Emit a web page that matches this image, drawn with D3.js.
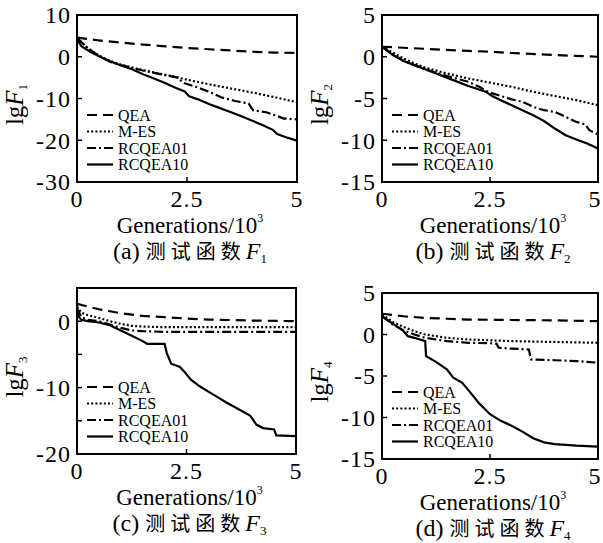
<!DOCTYPE html>
<html>
<head>
<meta charset="utf-8">
<script src="https://cdn.jsdelivr.net/npm/d3@7/dist/d3.min.js"></script>
<style>
  body { margin: 0; background: #fff; }
  text { font-family: "Liberation Serif", "DejaVu Serif", serif; fill: #000; }
  .cjk { font-family: "Noto Sans CJK SC", sans-serif; }
</style>
</head>
<body>
<svg id="chart" width="603" height="543"></svg>
<script>
// legend / series names
const seriesNames = ["QEA", "M-ES", "RCQEA01", "RCQEA10"];
const xTicks = [0, 2.5, 5];
const xTickLabels = ["0", "2.5", "5"];

// F1
const f1Ticks = [10, 0, -10, -20, -30];
const f1QEA = [[0,4.6],[0.5,3.9],[1,3.4],[1.5,2.9],[2,2.5],[2.5,2.1],[3,1.8],[3.5,1.5],[4,1.2],[4.5,1.0],[5,0.9]];
const f1MES = [[0,4.5],[0.25,2],[0.5,0.3],[0.75,-1.0],[1,-1.9],[1.5,-3.2],[2,-4.3],[2.5,-5.5],[3,-6.6],[3.5,-7.6],[4,-8.6],[4.5,-9.7],[5,-10.9]];
const f1R01 = [[0,4.5],[0.25,2],[0.5,0.2],[0.75,-1.2],[1,-2],[1.5,-3.3],[2,-4.4],[2.3,-5.0],[2.4,-6.2],[2.7,-7.2],[3,-8.4],[3.3,-9.8],[3.6,-10.6],[3.9,-11.2],[4.0,-12.8],[4.3,-13.3],[4.5,-14.0],[4.7,-14.8],[5,-15.0]];
const f1R10 = [[0,4.2],[0.1,2.5],[0.3,1.2],[0.5,0.1],[0.75,-1.1],[1,-2.1],[1.25,-3.0],[1.5,-4.2],[1.75,-5.2],[2,-6.3],[2.25,-7.5],[2.45,-8.3],[2.55,-9.5],[2.75,-10.2],[3,-11.3],[3.25,-12.3],[3.5,-13.3],[3.75,-14.3],[4,-15.4],[4.25,-16.5],[4.45,-17.5],[4.55,-18.5],[4.75,-19.3],[5,-20.1]];

// F2
const f2Ticks = [5, 0, -5, -10, -15];
const f2QEA = [[0,1.2],[1,0.95],[2,0.7],[2.5,0.6],[3,0.45],[4,0.2],[5,0.0]];
const f2MES = [[0,1.2],[0.25,0.5],[0.5,-0.2],[0.75,-0.8],[1,-1.3],[1.5,-2.0],[2,-2.6],[2.5,-3.1],[3,-3.6],[3.5,-4.2],[4,-4.7],[4.5,-5.2],[5,-5.8]];
const f2R01 = [[0,1.2],[0.25,0.3],[0.5,-0.5],[0.75,-1.0],[1,-1.5],[1.5,-2.3],[2,-3.0],[2.25,-3.6],[2.5,-4.3],[2.75,-4.7],[3,-5.1],[3.25,-5.4],[3.5,-6.0],[3.75,-6.4],[4,-6.6],[4.25,-7.2],[4.5,-7.8],[4.7,-8.1],[4.8,-8.8],[5,-9.3]];
const f2R10 = [[0,1.2],[0.25,0.2],[0.5,-0.5],[0.75,-1.0],[1,-1.5],[1.5,-2.5],[2,-3.5],[2.4,-4.2],[2.55,-4.7],[2.75,-5.2],[3,-5.8],[3.5,-7.0],[3.75,-7.7],[4,-8.6],[4.25,-9.4],[4.5,-9.9],[4.75,-10.4],[5,-11.0]];

// F3
const f3Ticks = [5, 0, -5, -10, -15, -20];
const f3Labels = [0, -10, -20];
const f3QEA = [[0,2.6],[0.25,2.2],[0.5,1.8],[0.75,1.5],[1,1.2],[1.5,0.8],[2,0.6],[2.5,0.4],[3,0.25],[4,0.1],[5,0.0]];
const f3MES = [[0,2.2],[0.1,1.3],[0.25,0.9],[0.5,0.5],[0.75,0.0],[1,-0.4],[1.25,-0.7],[1.5,-0.8],[2,-0.9],[3,-0.9],[5,-0.9]];
const f3R01 = [[0,2.0],[0.1,0.6],[0.25,0.2],[0.5,0.0],[0.75,-0.5],[1,-1.0],[1.25,-1.4],[1.5,-1.5],[2,-1.6],[5,-1.6]];
const f3R10 = [[0,1.8],[0.05,0.6],[0.1,0.2],[0.25,0.0],[0.5,-0.2],[0.75,-0.6],[1,-1.4],[1.25,-2.2],[1.5,-3.0],[1.6,-3.4],[2.0,-3.4],[2.05,-4.8],[2.15,-6.4],[2.35,-6.9],[2.45,-7.6],[2.6,-8.8],[2.8,-9.8],[3.0,-10.6],[3.2,-11.4],[3.4,-12.2],[3.65,-13.1],[3.95,-14.2],[4.1,-15.6],[4.25,-16.1],[4.5,-16.3],[4.55,-17.2],[5,-17.3]];

// F4
const f4Ticks = [5, 0, -5, -10, -15];
const f4QEA = [[0,2.5],[0.5,2.2],[1,2.0],[1.5,1.9],[2,1.8],[3,1.75],[4,1.7],[5,1.6]];
const f4MES = [[0,2.4],[0.25,1.5],[0.5,0.9],[0.75,0.4],[1,0.0],[1.5,-0.4],[2,-0.6],[2.5,-0.7],[3,-0.8],[4,-0.9],[5,-1.0]];
const f4R01 = [[0,2.2],[0.25,1.2],[0.5,0.5],[0.75,0.0],[1,-0.4],[1.5,-0.8],[2,-1.0],[2.5,-1.05],[2.65,-1.1],[2.7,-1.6],[3,-1.7],[3.4,-1.8],[3.45,-3.0],[4,-3.1],[4.5,-3.2],[5,-3.4]];
const f4R10 = [[0,2.2],[0.25,1.3],[0.5,0.4],[0.6,-0.2],[0.75,-0.4],[1,-0.8],[1.02,-2.6],[1.25,-3.3],[1.5,-4.2],[1.65,-5.2],[1.85,-5.8],[2,-6.7],[2.25,-8.3],[2.5,-9.6],[2.75,-10.4],[3,-11.0],[3.25,-11.7],[3.5,-12.5],[3.75,-13.0],[4,-13.2],[4.5,-13.4],[5,-13.5]];

const dashes = ["10,6", "2,2.2", "9,3,2,3", null];

const panels = [
  { tag: "(a)", n: "1", x0: 77, x1: 297, y0: 15, y1: 182, ticks: f1Ticks, labels: f1Ticks, series: [f1QEA, f1MES, f1R01, f1R10] },
  { tag: "(b)", n: "2", x0: 382, x1: 598, y0: 15, y1: 182, ticks: f2Ticks, labels: f2Ticks, series: [f2QEA, f2MES, f2R01, f2R10] },
  { tag: "(c)", n: "3", x0: 77, x1: 296, y0: 288, y1: 454, ticks: f3Ticks, labels: f3Labels, series: [f3QEA, f3MES, f3R01, f3R10] },
  { tag: "(d)", n: "4", x0: 382, x1: 598, y0: 293, y1: 459, ticks: f4Ticks, labels: f4Ticks, series: [f4QEA, f4MES, f4R01, f4R10] }
];

const svg = d3.select("#chart");

panels.forEach(p => {
  const g = svg.append("g");
  const x = d3.scaleLinear().domain([0, 5]).range([p.x0, p.x1]);
  const y = d3.scaleLinear().domain(d3.extent(p.ticks)).range([p.y1, p.y0]);

  // lines
  const line = d3.line().x(d => x(d[0])).y(d => y(d[1]));
  p.series.forEach((s, i) => {
    g.append("path").datum(s)
      .attr("d", line)
      .attr("fill", "none")
      .attr("stroke", "#000")
      .attr("stroke-width", 2.2)
      .attr("stroke-dasharray", dashes[i]);
  });

  // frame
  g.append("rect")
    .attr("x", p.x0).attr("y", p.y0)
    .attr("width", p.x1 - p.x0).attr("height", p.y1 - p.y0)
    .attr("fill", "none").attr("stroke", "#000").attr("stroke-width", 2);

  // y ticks (inside) and labels
  g.selectAll(".yt").data(p.ticks).enter().append("line")
    .attr("x1", p.x0).attr("x2", p.x0 + 5)
    .attr("y1", d => y(d)).attr("y2", d => y(d))
    .attr("stroke", "#000").attr("stroke-width", 1.5);
  g.selectAll(".yl").data(p.labels).enter().append("text")
    .attr("x", p.x0 - 6).attr("y", d => y(d)).attr("dy", "0.35em")
    .attr("text-anchor", "end").attr("font-size", 24)
    .attr("letter-spacing", 1)
    .text(d => d);

  // x ticks
  g.selectAll(".xt").data(xTicks).enter().append("line")
    .attr("x1", d => x(d)).attr("x2", d => x(d))
    .attr("y1", p.y1).attr("y2", p.y1 - 5)
    .attr("stroke", "#000").attr("stroke-width", 1.5);
  g.selectAll(".xl").data(xTicks).enter().append("text")
    .attr("x", (d, i) => x(d) - (i === 2 && p.x1 > 590 ? 3 : 0)).attr("y", p.y1 + 25)
    .attr("text-anchor", "middle").attr("font-size", 24)
    .attr("letter-spacing", 1)
    .text((d, i) => xTickLabels[i]);

  const cx = (p.x0 + p.x1) / 2 + 3;

  // x axis title
  const xt = g.append("text").attr("x", cx).attr("y", p.y1 + 51)
    .attr("text-anchor", "middle").attr("font-size", 23);
  xt.append("tspan").text("Generations/10");
  xt.append("tspan").attr("font-size", 12).attr("dy", -11).text("3");

  // caption
  const cap = g.append("text").attr("x", cx).attr("y", p.y1 + 77)
    .attr("text-anchor", "middle").attr("font-size", 24);
  cap.append("tspan").text(p.tag + " ");
  cap.append("tspan").attr("class", "cjk").attr("font-size", 20).attr("letter-spacing", 5).text("测试函数");
  cap.append("tspan").attr("font-style", "italic").text("F");
  cap.append("tspan").attr("font-size", 13).attr("dy", 4).text(p.n);

  // y axis title
  const yl = g.append("text")
    .attr("transform", `translate(${p.x0 - 54},${(p.y0 + p.y1) / 2 + 6}) rotate(-90)`)
    .attr("text-anchor", "middle").attr("font-size", 25);
  yl.append("tspan").text("lg");
  yl.append("tspan").attr("font-style", "italic").text("F");
  yl.append("tspan").attr("font-size", 13).attr("dy", 4).text(p.n);

  // legend
  const leg = g.append("g");
  seriesNames.forEach((name, i) => {
    const ly = p.y1 - 67 + i * 16.5;
    leg.append("line")
      .attr("x1", p.x0 + 10).attr("x2", p.x0 + 36)
      .attr("y1", ly).attr("y2", ly)
      .attr("stroke", "#000").attr("stroke-width", 2.2)
      .attr("stroke-dasharray", dashes[i]);
    leg.append("text")
      .attr("x", p.x0 + 41).attr("y", ly).attr("dy", "0.35em")
      .attr("font-size", 16).text(name);
  });
});
</script>
</body>
</html>
